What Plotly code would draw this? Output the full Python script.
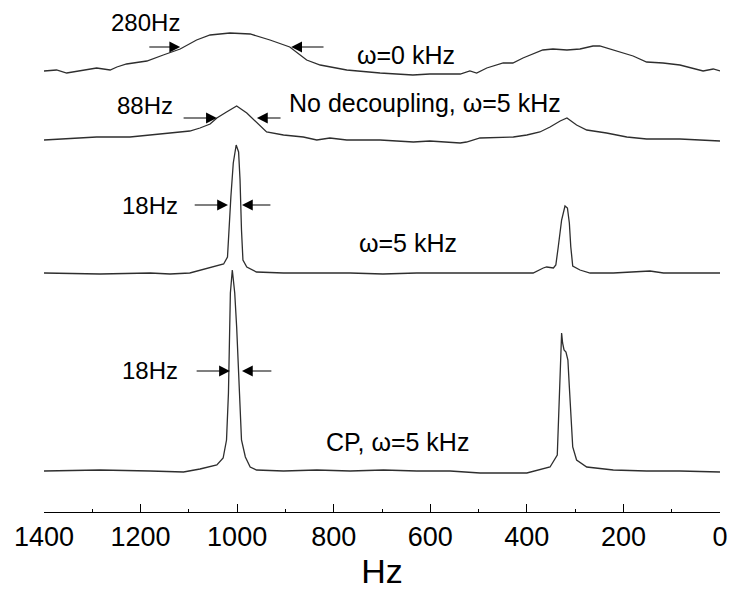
import plotly.graph_objects as go

# Spectrum 1: omega = 0 kHz
hz1 = [1400, 1374, 1353, 1325, 1291, 1263, 1249, 1229, 1187, 1153, 1118, 1084, 1056, 1015, 973, 932, 891,
       856, 828, 773, 704, 636, 601, 538, 518, 504, 483, 449, 429, 408, 367, 346, 317, 290, 263, 249,
       207, 180, 152, 118, 83, 56, 35, 14, 0]
y1 = [441, 442, 439, 441, 444, 442, 445, 448, 451, 457, 463, 472, 477, 479, 478, 472, 465,
      452, 447, 442, 439, 437, 438, 438, 441, 439, 444, 449, 449, 454, 462, 463, 462, 463, 466, 466,
      460, 456, 450, 449, 447, 444, 441, 443, 441]

# Spectrum 2: no decoupling, omega = 5 kHz
hz2 = [1400, 1360, 1291, 1222, 1187, 1139, 1098, 1077, 1056, 1042, 1022, 1001, 980, 960, 939, 904, 863,
       835, 808, 773, 704, 635, 601, 538, 525, 497, 428, 400, 373, 352, 331, 317, 297, 276, 235, 193,
       152, 83, 41, 0]
y2 = [372, 373, 375, 375, 377, 379, 381, 384, 388, 394, 400, 406, 399, 390, 380, 377, 375,
      372, 374, 372, 372, 370, 371, 369, 370, 374, 375, 377, 380, 385, 391, 394, 387, 382, 379, 375,
      373, 373, 372, 371]

# Spectrum 3: omega = 5 kHz
hz3 = [1400, 1284, 1180, 1139, 1098, 1056, 1028, 1020, 1017, 1013, 1008, 1002, 997, 994, 991, 988, 980,
       960, 904, 835, 766, 698, 628, 559, 497, 428, 387, 366, 359, 345, 340, 335, 328, 321, 316, 312,
       309, 305, 290, 269, 221, 145, 117, 0]
y3 = [239, 238, 239, 238, 239, 244, 248, 255, 282, 315, 349, 367, 360, 332, 282, 252, 245,
      240, 239, 239, 239, 238, 239, 239, 239, 239, 239, 244, 245, 244, 247, 265, 292, 306, 304, 289,
      265, 246, 242, 239, 239, 241, 239, 239]

# Spectrum 4: CP, omega = 5 kHz
hz4 = [1400, 1284, 1180, 1111, 1077, 1042, 1029, 1022, 1018, 1016, 1014, 1010, 1005, 1001, 998, 994, 991,
       983, 973, 960, 904, 835, 766, 697, 628, 559, 497, 400, 373, 352, 337, 334, 331, 329, 328, 326,
       323, 319, 315, 312, 309, 305, 297, 276, 221, 152, 83, 0]
y4 = [41, 42, 41, 40, 43, 47, 54, 72, 119, 169, 219, 242, 219, 185, 152, 102, 72,
      55, 45, 42, 41, 42, 41, 42, 41, 41, 39, 39, 42, 45, 57, 99, 132, 165, 179, 169,
      162, 160, 152, 125, 92, 65, 52, 45, 42, 41, 41, 40]

series = [(hz1, y1), (hz2, y2), (hz3, y3), (hz4, y4)]

FONT = "Arial, Liberation Sans, sans-serif"
LINE = "#2e2e2e"

fig = go.Figure()
for hz, yy in series:
    fig.add_trace(go.Scatter(x=hz, y=yy, mode="lines",
                             line=dict(color=LINE, width=1.3), showlegend=False,
                             hoverinfo="skip"))

def label(x, y, text, size=24):
    fig.add_annotation(x=x, y=y, xref="x", yref="y", text=text, showarrow=False,
                       font=dict(family=FONT, size=size, color="black"))

def arrow(tail, head, y):
    fig.add_annotation(x=head, y=y, ax=tail, ay=y, xref="x", yref="y", axref="x", ayref="y",
                       text="", showarrow=True, arrowhead=2, arrowsize=1.8, arrowwidth=1.2,
                       arrowcolor="black", standoff=0, startstandoff=0)

label(1189, 490, "280Hz")
arrow(1185, 1118, 465)
arrow(818, 888, 465)
label(650, 457, "ω=0 kHz", 25)

label(1191, 407, "88Hz")
arrow(1114, 1042, 394)
arrow(907, 959, 394)
label(611, 409, "No decoupling, ω=5 kHz", 25)

label(1180, 307, "18Hz")
arrow(1091, 1019, 307)
arrow(928, 990, 307)
label(646, 269, "ω=5 kHz", 25)

label(1180, 142, "18Hz")
arrow(1087, 1015, 141)
arrow(926, 990, 141)
label(668, 70, "CP, ω=5 kHz", 25)

fig.update_layout(
    width=729, height=597,
    margin=dict(l=44, r=9, t=0, b=85),
    paper_bgcolor="white", plot_bgcolor="white",
    font=dict(family=FONT, color="black"),
    xaxis=dict(range=[1400, 0], dtick=200, tick0=0, showgrid=False, zeroline=False,
               showline=True, linecolor="black", linewidth=1.3,
               ticks="inside", ticklen=8, tickwidth=1.3, tickcolor="black",
               minor=dict(ticks="inside", ticklen=3, dtick=100, tickwidth=1.3, tickcolor="black"),
               tickfont=dict(family=FONT, size=27, color="black"),
               title=dict(text="Hz", font=dict(family=FONT, size=34, color="black"), standoff=8)),
    yaxis=dict(range=[0, 512], visible=False, showgrid=False, zeroline=False),
)

fig.write_html("out.html")
